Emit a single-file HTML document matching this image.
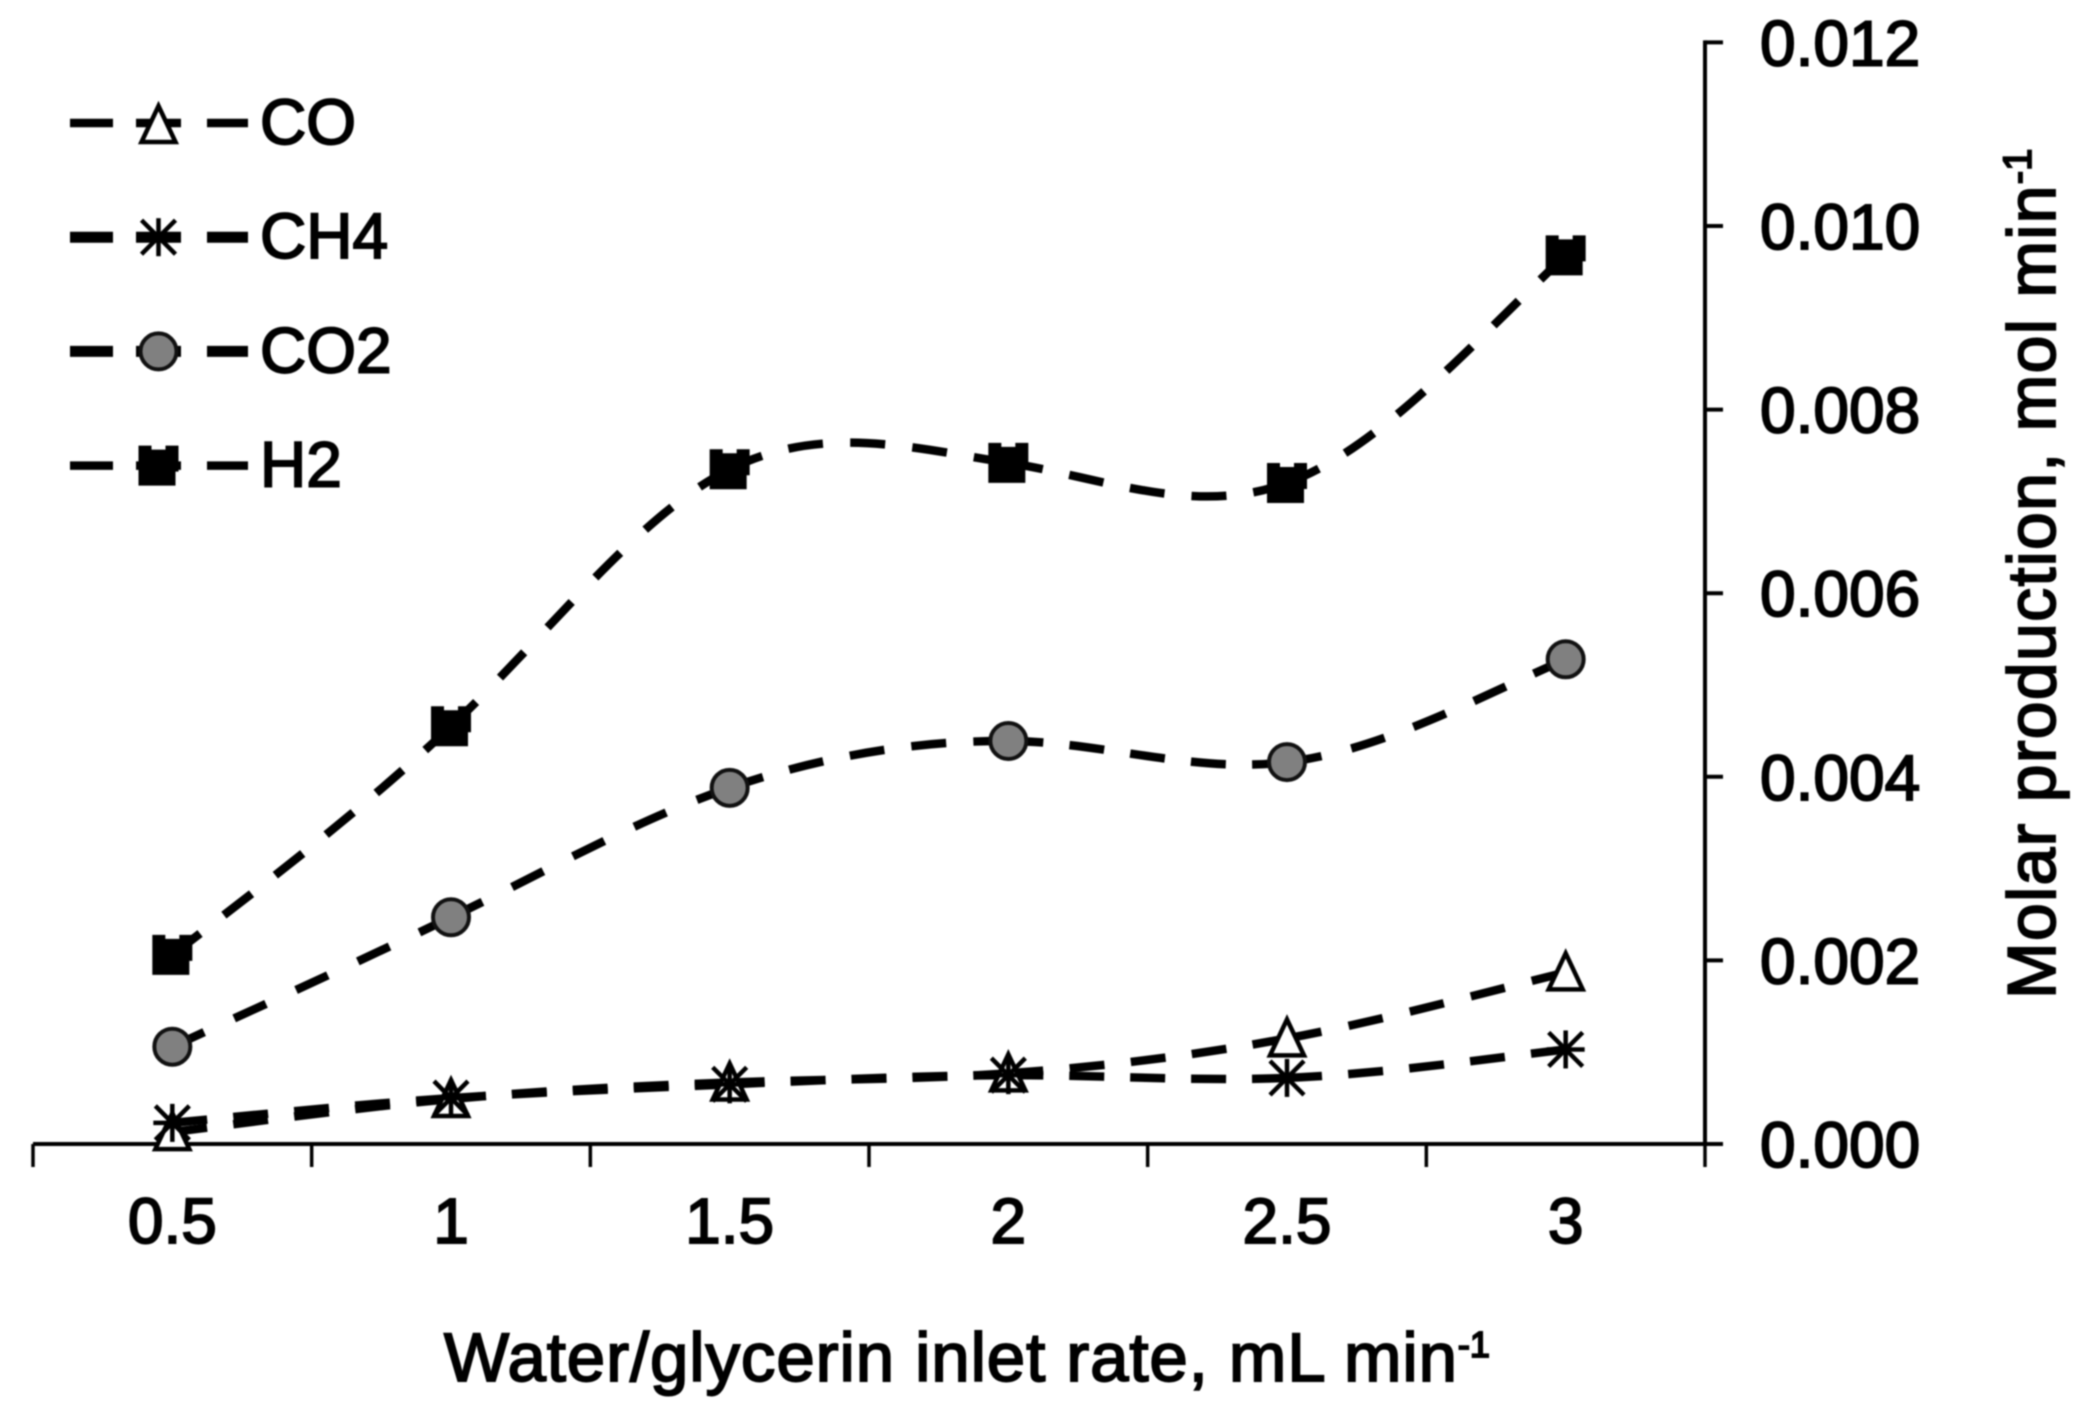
<!DOCTYPE html>
<html lang="en">
<head>
<meta charset="utf-8">
<title>Molar production vs water/glycerin inlet rate</title>
<style>
html,body{margin:0;padding:0;background:#fff;width:2088px;height:1426px;overflow:hidden}
svg{display:block;filter:blur(0.8px)}
text{font-family:"Liberation Sans",Arial,sans-serif;fill:#000;stroke:#000;stroke-width:1.9px;font-size:64px}
</style>
</head>
<body>
<svg id="chart" xmlns="http://www.w3.org/2000/svg" width="2088" height="1426" viewBox="0 0 2088 1426">
  <rect x="0" y="0" width="2088" height="1426" fill="#fff"/>
  <g id="lines"></g>
  <g id="axes"></g>
  <g id="markers"></g>
  <g id="legend"></g>
  <text x="444" y="1381" style="font-size:69px;letter-spacing:0.9px">Water/glycerin inlet rate, mL min<tspan dy="-24" style="font-size:36px;letter-spacing:0">-1</tspan></text>
  <text transform="translate(2055,999) rotate(-90)" x="0" y="0" style="font-size:68px;letter-spacing:1.3px">Molar production, mol min<tspan dy="-24" style="font-size:40px;letter-spacing:0">-1</tspan></text>
</svg>
<script>
const categories = ["0.5", "1", "1.5", "2", "2.5", "3"];
const yTickLabels = ["0.000", "0.002", "0.004", "0.006", "0.008", "0.010", "0.012"];
const yTickValues = [0, 0.002, 0.004, 0.006, 0.008, 0.010, 0.012];
const coValues  = [0.00013, 0.00049, 0.00067, 0.00077, 0.00115, 0.00187];
const ch4Values = [0.00023, 0.00050, 0.00065, 0.00075, 0.00072, 0.00103];
const co2Values = [0.00106, 0.00247, 0.00388, 0.00439, 0.00416, 0.00528];
const h2Values  = [0.00206, 0.00455, 0.00735, 0.00742, 0.00720, 0.00968];
const seriesNames = ["CO", "CH4", "CO2", "H2"];

const NS = "http://www.w3.org/2000/svg";
const plot = { left: 33, right: 1705, top: 42.4, bottom: 1144, yMax: 0.012 };
function xScale(i) {
  return plot.left + (plot.right - plot.left) * (i + 0.5) / categories.length;
}
function yScale(v) {
  return plot.bottom - (plot.bottom - plot.top) * v / plot.yMax;
}
function make(tag, attrs, parent) {
  const el = document.createElementNS(NS, tag);
  for (const k in attrs) el.setAttribute(k, attrs[k]);
  parent.appendChild(el);
  return el;
}

/* smooth curve through the data: natural-spline slopes blended with central differences */
function splineSegments(values) {
  const n = values.length;
  const xs = values.map((_, i) => xScale(i));
  const ys = values.map(yScale);
  const h = xs[1] - xs[0];
  const M = new Array(n).fill(0);
  const c = new Array(n).fill(0);
  const d = new Array(n).fill(0);
  for (let i = 1; i < n - 1; i++) {
    const rhs = 6 * (ys[i + 1] - 2 * ys[i] + ys[i - 1]) / (h * h);
    const m = 4 - c[i - 1];
    c[i] = 1 / m;
    d[i] = (rhs - d[i - 1]) / m;
  }
  for (let i = n - 2; i >= 1; i--) M[i] = d[i] - c[i] * M[i + 1];
  const slopes = ys.map(function (y, i) {
    let spline;
    if (i < n - 1) spline = (ys[i + 1] - y) / h - h * (2 * M[i] + M[i + 1]) / 6;
    else spline = (y - ys[i - 1]) / h + h * (M[i - 1] + 2 * M[i]) / 6;
    const central = (ys[Math.min(i + 1, n - 1)] - ys[Math.max(i - 1, 0)]) / (h * (i > 0 && i < n - 1 ? 2 : 1));
    return 0.55 * spline + 0.45 * central;
  });
  const segments = [];
  for (let i = 0; i < n - 1; i++) {
    segments.push("M" + xs[i].toFixed(2) + " " + ys[i].toFixed(2) +
      "C" + (xs[i] + h / 3).toFixed(2) + " " + (ys[i] + slopes[i] * h / 3).toFixed(2) +
      " " + (xs[i + 1] - h / 3).toFixed(2) + " " + (ys[i + 1] - slopes[i + 1] * h / 3).toFixed(2) +
      " " + xs[i + 1].toFixed(2) + " " + ys[i + 1].toFixed(2));
  }
  return segments;
}

function drawMarker(parent, type, x, y, name) {
  const g = make("g", { transform: "translate(" + x + "," + y + ")" }, parent);
  
  
  if (type === "CO") {
    make("polygon", { points: "0,-19 17,17 -17,17", fill: "#fff", stroke: "#000", "stroke-width": 4.5 }, g);
  } else if (type === "CH4") {
    const spokes = [[0, -19, 0, 19], [-17, -17, 17, 17], [-17, 17, 17, -17], [-19, 0, 19, 0]];
    spokes.forEach(s => make("line", { x1: s[0], y1: s[1], x2: s[2], y2: s[3], stroke: "#000", "stroke-width": 4.5 }, g));
  } else if (type === "CO2") {
    make("circle", { cx: 0, cy: 0, r: 18, fill: "#808080", stroke: "#111", "stroke-width": 4 }, g);
  } else {
    make("polygon", { points: "-20,-20 -7,-20 -7,-16 7,-16 7,-20 20,-20 20,6 17,6 17,20 -20,20", fill: "#000" }, g);
  }
}

const linesLayer = document.getElementById("lines");
const markersLayer = document.getElementById("markers");
const axesLayer = document.getElementById("axes");
const legendLayer = document.getElementById("legend");

const dashLen = 35;
const gapLen = 33;
[["CO", coValues], ["CH4", ch4Values], ["CO2", co2Values], ["H2", h2Values]].forEach(function (entry) {
  const label = entry[0].toLowerCase();
  splineSegments(entry[1]).forEach(function (d) {
    const seg = make("path", { d: d, fill: "none", stroke: "#000", "stroke-width": 8.5 }, linesLayer);
    
    
    const L = seg.getTotalLength();
    const gaps = Math.max(1, Math.round((L - dashLen) / (dashLen + gapLen)));
    const gap = (L - (gaps + 1) * dashLen) / gaps;
    seg.setAttribute("stroke-dasharray", dashLen + " " + gap.toFixed(3));
  });
  entry[1].forEach(function (v, i) {
    drawMarker(markersLayer, entry[0], xScale(i), yScale(v), label + "-point-" + categories[i]);
  });
});

/* axes */
const xAxisLine = make("line", { x1: plot.left, y1: plot.bottom, x2: plot.right + 18, y2: plot.bottom, stroke: "#000", "stroke-width": 4 }, axesLayer);


const yAxisLine = make("line", { x1: plot.right, y1: plot.top - 2, x2: plot.right, y2: plot.bottom, stroke: "#000", "stroke-width": 4 }, axesLayer);



for (let i = 0; i <= categories.length; i++) {
  const tx = plot.left + (plot.right - plot.left) * i / categories.length;
  const tick = make("line", { x1: tx, y1: plot.bottom, x2: tx, y2: plot.bottom + 23, stroke: "#000", "stroke-width": 3.5 }, axesLayer);
  
  
}
categories.forEach(function (c, i) {
  const t = make("text", { x: xScale(i), y: 1243, "text-anchor": "middle" }, axesLayer);
  t.textContent = c;
  
  
});
yTickValues.forEach(function (v, i) {
  const ty = yScale(v);
  const tick = make("line", { x1: plot.right, y1: ty, x2: plot.right + 18, y2: ty, stroke: "#000", "stroke-width": 4 }, axesLayer);
  
  
  const t = make("text", { x: 1760, y: ty + 23 }, axesLayer);
  t.textContent = yTickLabels[i];
  
  
});

/* legend */
seriesNames.forEach(function (name, i) {
  const rowY = 123 + i * 114.2;
  const heavy = name === "CH4" || name === "CO2";
  const row = make("g", {}, legendLayer);
  
  
  const w = heavy ? 11 : 8.5;
  make("line", { x1: 70, y1: rowY, x2: 113, y2: rowY, stroke: "#000", "stroke-width": w }, row);
  make("line", { x1: 207, y1: rowY, x2: 248, y2: rowY, stroke: "#000", "stroke-width": w }, row);
  make("line", { x1: 136, y1: rowY, x2: 181, y2: rowY, stroke: "#000", "stroke-width": w }, row);
  drawMarker(row, name, 158.5, rowY + (name === "H2" ? 0 : name === "CO" ? 2 : 0), "legend-marker");
  const t = make("text", { x: 260, y: rowY + 21 }, row);
  t.textContent = name;
});
</script>
</body>
</html>
